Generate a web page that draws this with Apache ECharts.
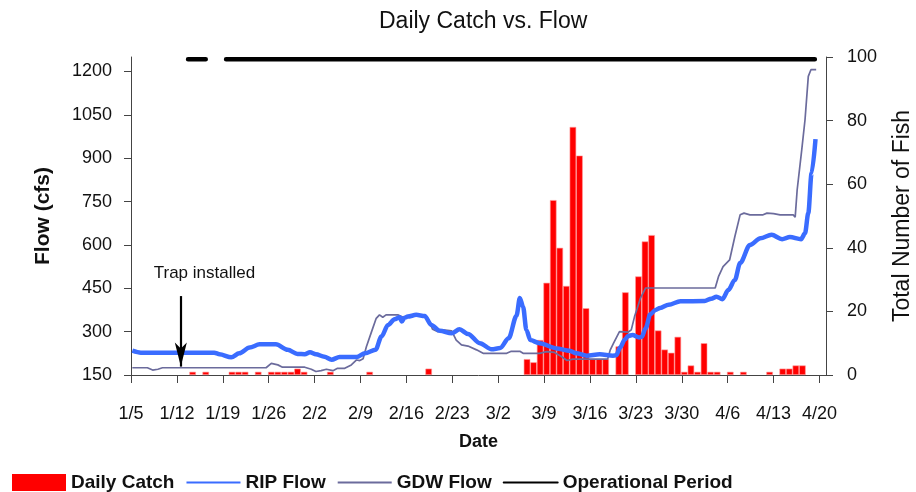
<!DOCTYPE html>
<html>
<head>
<meta charset="utf-8">
<title>Daily Catch vs. Flow</title>
<script src="https://cdn.jsdelivr.net/npm/echarts@6/dist/echarts.min.js"></script>
<style>
  html, body { margin: 0; padding: 0; background: #fff; }
  #chart { width: 916px; height: 492px; }
</style>
</head>
<body>
<div id="chart"></div>
<script>
// day numbers count from 1/5 (day 0) to 4/20 (day 105)
var tickDays = [0, 7, 14, 21, 28, 35, 42, 49, 56, 63, 70, 77, 84, 91, 98, 105];
var tickLabels = ['1/5', '1/12', '1/19', '1/26', '2/2', '2/9', '2/16', '2/23',
                  '3/2', '3/9', '3/16', '3/23', '3/30', '4/6', '4/13', '4/20'];
var flowTicks = [150, 300, 450, 600, 750, 900, 1050, 1200];

// daily catch (fish per day)
var catchDays = [9, 11, 15, 16, 17, 19, 21, 22, 23, 24, 25, 26, 30, 36, 45,
                 60, 61, 62, 63, 64, 65, 66, 67, 68, 69, 70, 71, 72, 74, 75,
                 77, 78, 79, 80, 81, 82, 83, 84, 85, 86, 87, 88, 89, 91, 93,
                 97, 99, 100, 101, 102];
var catchCounts = [1, 1, 1, 1, 1, 1, 1, 1, 1, 1, 2, 1, 1, 1, 2,
                   5, 4, 11, 29, 55, 40, 28, 78, 69, 21, 5, 5, 5, 9, 26,
                   31, 42, 44, 14, 8, 7, 12, 1, 3, 1, 10, 1, 1, 1, 1,
                   1, 2, 2, 3, 3];

// RIP flow (cfs)
var ripDays = [0.2, 1.5, 12.7, 13.5, 15.3, 16.5, 18.1, 19.6, 22.1, 23.9, 25.4, 26.5,
               27.3, 28.2, 29.5, 30.6, 31.8, 34.4, 35.7, 37.3, 38.2, 39.2, 40.2, 41.0,
               41.3, 41.7, 42.2, 43.5, 44.8, 45.8, 47.1, 48.9, 50.1, 51.4, 53.2, 55.0,
               56.3, 57.6, 58.8, 59.3, 59.8, 60.3, 60.9, 62.3, 64.9, 66.9, 67.9, 69.5,
               71.5, 73.5, 74.0, 74.6, 75.3, 75.8, 76.5, 77.5, 77.9, 78.5, 79.2, 80.0,
               80.7, 82.0, 83.8, 87.5, 88.5, 89.3, 90.2, 91.1, 92.1, 92.9, 94.4, 96.0,
               97.7, 99.3, 100.5, 102.2, 102.8, 103.3, 103.8, 104.4];
var ripFlow = [234, 227, 227, 222, 211, 225, 245, 256, 256, 237, 223, 222,
               229, 222, 213, 203, 212, 212, 225, 237, 283, 323, 343, 350,
               335, 348, 352, 358, 354, 323, 303, 294, 308, 292, 260, 239,
               243, 277, 355, 416, 386, 306, 271, 260, 242, 234, 225, 217,
               222, 217, 218, 245, 272, 285, 288, 280, 282, 312, 360, 375,
               382, 393, 405, 406, 414, 421, 412, 444, 479, 537, 600, 623,
               635, 620, 627, 620, 640, 710, 848, 966];

// GDW flow (cfs)
var gdwDays = [0.2, 2.5, 3.3, 4.1, 4.8, 20.6, 21.4, 22.4, 23.1, 26.5, 27.5, 28.2,
               29.0, 29.8, 30.8, 31.5, 32.6, 33.6, 34.4, 34.9, 35.4, 35.9, 36.6, 37.4,
               37.9, 38.4, 38.9, 40.7, 41.5, 42.2, 43.8, 45.0, 45.5, 46.0, 46.8, 47.6,
               48.9, 49.6, 50.4, 51.4, 52.7, 53.7, 57.3, 58.0, 59.3, 59.8, 62.3, 63.4,
               64.6, 65.7, 66.5, 67.4, 72.7, 73.1, 73.6, 74.5, 75.8, 76.3, 76.8, 77.2,
               77.7, 78.5, 89.1, 89.6, 90.3, 91.3, 92.1, 92.9, 93.5, 94.4, 96.4, 97.0,
               98.0, 99.0, 101.0, 101.3, 101.6, 102.3, 102.8, 103.3, 103.7, 104.5];
var gdwFlow = [175, 175, 167, 170, 175, 175, 190, 185, 177, 177, 170, 162,
               165, 170, 165, 173, 173, 185, 202, 200, 206, 248, 294, 346,
               358, 350, 358, 358, 350, 350, 358, 354, 335, 308, 300, 306,
               303, 271, 254, 250, 237, 225, 225, 232, 232, 225, 225, 231,
               228, 213, 200, 205, 205, 237, 260, 300, 298, 306, 352, 380,
               416, 451, 451, 490, 525, 548, 629, 704, 710, 704, 704, 710,
               708, 704, 704, 696, 790, 929, 1033, 1183, 1206, 1206];

// trap operating spans (days) drawn along the top
var opStart = [8.7, 14.5];
var opEnd = [11.4, 104.3];
var opLevel = 99.3;

// "Trap installed" note
var trapDay = 7.6;
var trapArrowFrom = 423;
var trapArrowTo = 179;
var trapNoteAt = [11.2, 503];

var FONT = "'Liberation Sans', Arial, sans-serif";

function zip(xs, ys) {
    return xs.map(function (x, i) { return [x, ys[i]]; });
}

var opData = [];
opStart.forEach(function (s, i) {
    if (i > 0) opData.push([(opEnd[i - 1] + s) / 2, '-']);
    opData.push([s, opLevel]);
    opData.push([opEnd[i], opLevel]);
});

var chart = echarts.init(document.getElementById('chart'));

var axisLine = { show: true, lineStyle: { color: '#444', width: 1 } };
// line entries in the legend show only the stroke
var noMarker = { opacity: 0 };

var option = {
    animation: false,
    textStyle: { fontFamily: FONT },
    title: {
        text: 'Daily Catch vs. Flow',
        left: 374,
        top: 5,
        textStyle: { fontFamily: FONT, fontSize: 23, fontWeight: 'normal', color: '#111' }
    },
    legend: {
        left: 12,
        top: 473,
        padding: 0,
        itemWidth: 54,
        itemHeight: 17,
        itemGap: 11,
        textStyle: { fontFamily: FONT, fontSize: 19, fontWeight: 'bold', color: '#111' },
        data: [
            { name: 'Daily Catch', icon: 'rect', itemStyle: { borderWidth: 0 } },
            { name: 'RIP Flow', itemStyle: noMarker },
            { name: 'GDW Flow', itemStyle: noMarker },
            { name: 'Operational Period', itemStyle: noMarker }
        ]
    },
    grid: { left: 131, right: 90, top: 57, bottom: 117, outerBoundsMode: 'none' },
    xAxis: {
        type: 'value',
        min: 0,
        max: 106,
        name: 'Date',
        nameLocation: 'middle',
        nameGap: 58,
        nameTextStyle: { fontFamily: FONT, fontSize: 18, fontWeight: 'bold', color: '#111' },
        axisLine: axisLine,
        axisTick: { show: true, length: 8, customValues: tickDays, lineStyle: { color: '#444' } },
        axisLabel: {
            customValues: tickDays,
            margin: 30,
            fontSize: 18,
            color: '#111',
            formatter: function (v) { return tickLabels[tickDays.indexOf(v)]; }
        },
        splitLine: { show: false }
    },
    yAxis: [
        {
            type: 'value',
            min: 150,
            max: 1250,
            name: 'Flow (cfs)',
            nameLocation: 'middle',
            nameRotate: 90,
            nameGap: 77,
            nameTextStyle: { fontFamily: FONT, fontSize: 21, fontWeight: 'bold', color: '#111' },
            axisLine: axisLine,
            axisTick: { show: true, length: 7, customValues: flowTicks, lineStyle: { color: '#444' } },
            axisLabel: {
                customValues: flowTicks,
                margin: 19,
                fontSize: 18,
                color: '#111',
                formatter: function (v) { return String(v); }
            },
            splitLine: { show: false }
        },
        {
            type: 'value',
            min: 0,
            max: 100,
            interval: 20,
            name: 'Total Number of Fish',
            nameLocation: 'middle',
            nameRotate: 90,
            nameGap: 65,
            nameTextStyle: { fontFamily: FONT, fontSize: 23, color: '#111' },
            axisLine: axisLine,
            axisTick: { show: true, length: 7, lineStyle: { color: '#444' } },
            axisLabel: { margin: 21, fontSize: 18, color: '#111' },
            splitLine: { show: false }
        }
    ],
    series: [
        {
            name: 'Daily Catch',
            type: 'bar',
            yAxisIndex: 1,
            barCategoryGap: '0%',
            itemStyle: { color: '#ff0000', borderColor: '#ff9a9a', borderWidth: 0.6 },
            data: catchDays.map(function (d, i) { return [d + 0.4, catchCounts[i]]; })
        },
        {
            name: 'GDW Flow',
            type: 'line',
            yAxisIndex: 0,
            symbol: 'none',
            color: '#6b6b9c',
            lineStyle: { color: '#6b6b9c', width: 1.7 },
            data: zip(gdwDays, gdwFlow),
            markLine: {
                silent: true,
                symbol: ['none', 'arrow'],
                symbolSize: [9, 24],
                lineStyle: { color: '#000', width: 2.2, type: 'solid' },
                label: { show: false },
                data: [[{ coord: [trapDay, trapArrowFrom] }, { coord: [trapDay, trapArrowTo] }]]
            },
            markPoint: {
                silent: true,
                symbol: 'circle',
                symbolSize: 0,
                label: {
                    show: true,
                    position: 'inside',
                    formatter: 'Trap installed',
                    fontFamily: FONT,
                    fontSize: 17,
                    color: '#111'
                },
                data: [{ coord: trapNoteAt }]
            }
        },
        {
            name: 'RIP Flow',
            type: 'line',
            yAxisIndex: 0,
            symbol: 'none',
            smooth: 0.3,
            smoothMonotone: 'x',
            color: '#3a6cff',
            lineStyle: { color: '#3a6cff', width: 4.5 },
            data: zip(ripDays, ripFlow)
        },
        {
            name: 'Operational Period',
            type: 'line',
            yAxisIndex: 1,
            symbol: 'none',
            color: '#000',
            lineStyle: { color: '#000', width: 4.5, cap: 'round' },
            data: opData
        }
    ]
};

chart.setOption(option);
window.addEventListener('resize', function () {
    chart.resize();
});
</script>
</body>
</html>
